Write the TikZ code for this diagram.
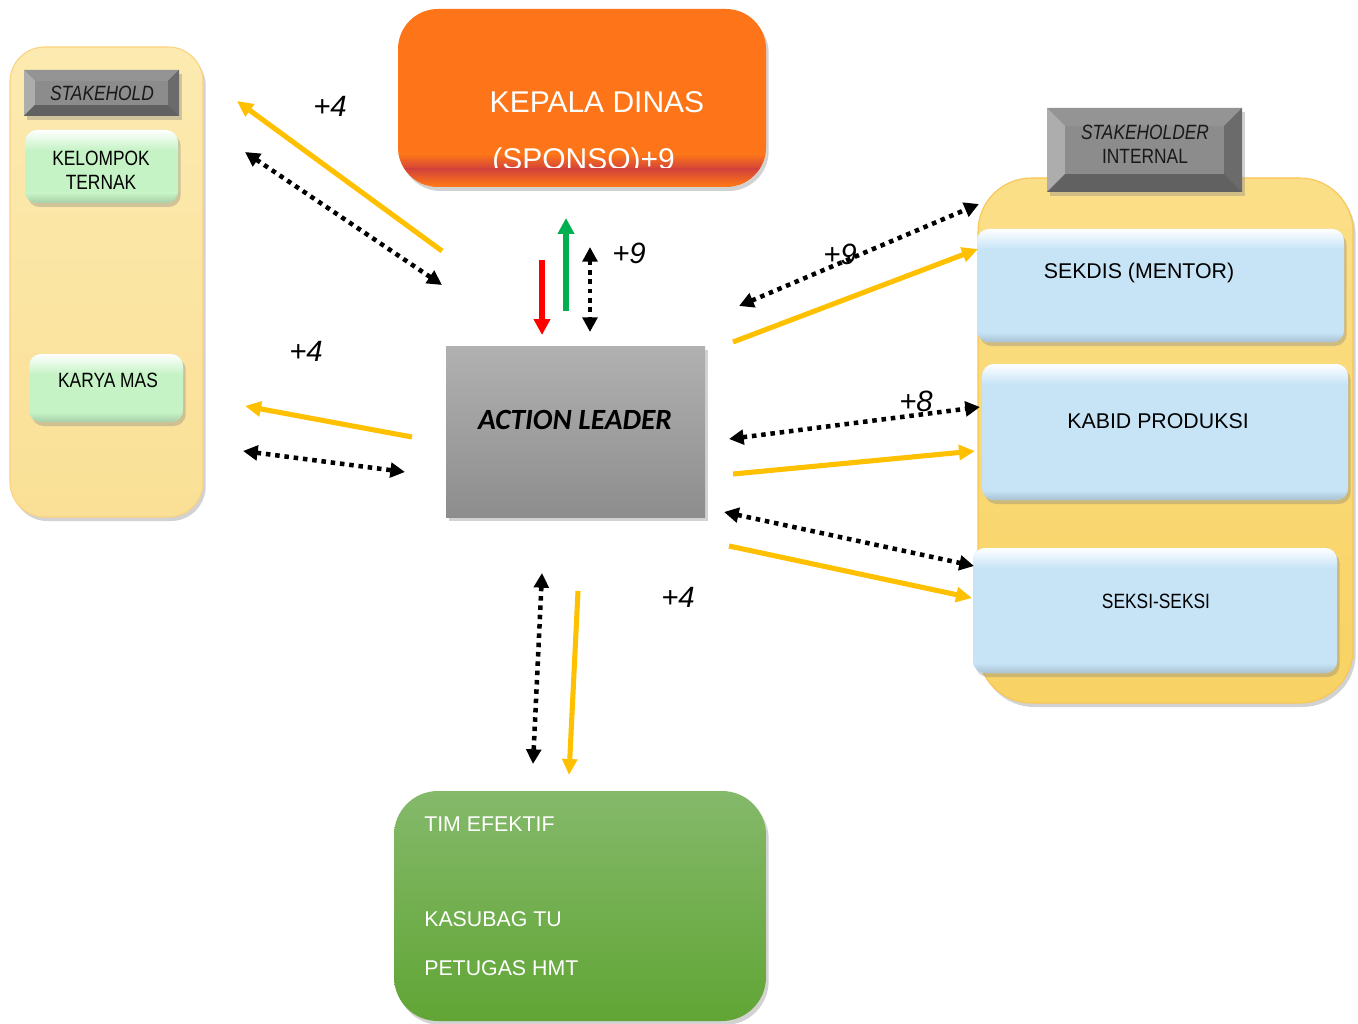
\documentclass[tikz,border=0pt]{standalone}
\usepackage{fontspec}
\setmainfont{Liberation Sans}
\newfontfamily\calfont{Carlito}
\newfontfamily\narrowfont[FakeStretch=0.84]{Liberation Sans}
\usetikzlibrary{shadows,arrows.meta}
\definecolor{lyelA}{HTML}{FCEAB0}
\definecolor{lyelB}{HTML}{FAE096}
\definecolor{ryelA}{HTML}{FBDF88}
\definecolor{ryelB}{HTML}{F8D263}
\definecolor{orng}{HTML}{FD7518}
\definecolor{orred}{HTML}{D3433A}
\definecolor{grnA}{HTML}{84B96A}
\definecolor{grnB}{HTML}{61A535}
\definecolor{gryA}{HTML}{B1B1B1}
\definecolor{gryB}{HTML}{8D8D8D}
\definecolor{ltgrn}{HTML}{C6F3C6}
\definecolor{ltblu}{HTML}{C7E4F7}
\definecolor{ayel}{HTML}{FFC000}
\definecolor{agrn}{HTML}{00B050}
\newcommand\mkbevbox[5]{%
  \path[sh,fill=#5,rounded corners=9pt] (#1,#2) rectangle (#3,#4);
  \begin{scope}
    \clip[rounded corners=9pt] (#1,#2) rectangle (#3,#4);
    \shade[top color=white, bottom color=#5] (#1,#2) rectangle (#3,#2+20);
    \shade[top color=#5, bottom color=#5!85!black] (#1,#4-10) rectangle (#3,#4);
  \end{scope}}
\newcommand\mkgraybox[5]{%
  \path[sh,fill=black!45] (#1,#2) rectangle (#3,#4);
  \fill[black!42] (#1,#2)--(#3,#2)--(#3-#5,#2+#5)--(#1+#5,#2+#5)--cycle;
  \fill[black!32] (#1,#2)--(#1+#5,#2+#5)--(#1+#5,#4-#5)--(#1,#4)--cycle;
  \fill[black!58] (#3,#2)--(#3-#5,#2+#5)--(#3-#5,#4-#5)--(#3,#4)--cycle;
  \fill[black!62] (#1,#4)--(#1+#5,#4-#5)--(#3-#5,#4-#5)--(#3,#4)--cycle;
  \fill[black!45] (#1+#5,#2+#5) rectangle (#3-#5,#4-#5);}
\tikzset{
  sh/.style={drop shadow={shadow xshift=2pt,shadow yshift=-3pt,opacity=.35}},
  yarr/.style={draw=ayel,line width=3.8pt,-{Triangle[length=12pt,width=11pt]}},
  darr/.style={draw=black,line width=3.4pt,dash pattern=on 3.4pt off 3.6pt,
    {Triangle[length=11pt,width=11pt]}-{Triangle[length=11pt,width=11pt]}},
  lbl/.style={font=\fontsize{22pt}{26pt}\itshape\selectfont, inner sep=0pt},
  sm/.style={font=\fontsize{15.5pt}{18pt}\narrowfont\selectfont, inner sep=0pt},
  md/.style={font=\fontsize{16pt}{19pt}\selectfont, inner sep=0pt},
  wt/.style={font=\fontsize{16pt}{19pt}\selectfont, text=white, inner sep=0pt, anchor=west},
}
\begin{document}
\begin{tikzpicture}[x=0.75pt,y=-0.75pt]
\useasboundingbox (0,0) rectangle (1358,1023);
\fill[white] (0,0) rectangle (1358,1023);

% left container
\path[sh,draw=lyelB!85!orange,line width=0.8pt,top color=lyelA,bottom color=lyelB,rounded corners=26pt] (10,47) rectangle (203,517);
\mkgraybox{24}{70}{179}{116}{11}
\node[sm,font=\fontsize{15.5pt}{18pt}\narrowfont\itshape\selectfont,text=black!90] (sh1) at (102,93) {STAKEHOLD};
\mkbevbox{25}{130}{178}{203}{ltgrn}
\node[sm,align=center] (kt) at (101,170) {KELOMPOK\\[0pt]TERNAK};
\mkbevbox{29}{354}{183}{422}{ltgrn}
\node[sm] (km) at (108,380) {KARYA MAS};

% right container
\path[sh,draw=ryelB!85!orange,line width=0.8pt,top color=ryelA,bottom color=ryelB,rounded corners=40pt] (978,178) rectangle (1353,703);
\mkgraybox{1047}{108}{1242}{192}{18}
\node[sm,align=center,text=black!90] (sh2) at (1145,144) {\itshape STAKEHOLDER\\[0pt]INTERNAL};
\mkbevbox{977}{229}{1344}{342}{ltblu}
\node[md] (sek) at (1139,273) {SEKDIS (MENTOR)};
\mkbevbox{982}{364}{1348}{500}{ltblu}
\node[md] (kab) at (1158,421) {KABID PRODUKSI};
\mkbevbox{973}{548}{1337}{673}{ltblu}
\node[sm] (sks) at (1156,601) {SEKSI-SEKSI};

% kepala dinas
\path[sh,fill=orng,rounded corners=30pt] (398,9) rectangle (766,187);
\begin{scope}
  \clip[rounded corners=30pt] (398,9) rectangle (766,187);
  \shade[top color=orng, bottom color=orred] (398,154) rectangle (766,169);
\end{scope}
\node[font=\fontsize{22.5pt}{26pt}\selectfont,text=white,inner sep=0pt] (kd1) at (597,102) {KEPALA DINAS};
\node[font=\fontsize{22.5pt}{26pt}\selectfont,text=white,inner sep=0pt,anchor=west] (kd2) at (492,162) {(SPONSO)+9};
\begin{scope}
  \clip[rounded corners=30pt] (398,9) rectangle (766,187);
  \shade[top color=orred, bottom color=orng] (398,169) rectangle (766,185);
\end{scope}

% action leader
\path[sh,top color=gryA,bottom color=gryB] (446,346) rectangle (705,517);
\node[font=\fontsize{22pt}{26pt}\calfont\bfseries\itshape\selectfont,inner sep=0pt] (al) at (575,420) {ACTION LEADER};

% tim efektif
\path[sh,top color=grnA,bottom color=grnB,rounded corners=33pt] (394,791) rectangle (766,1021);
\node[wt] (te1) at (424,824) {TIM EFEKTIF};
\node[wt] (te2) at (424,919) {KASUBAG TU};
\node[wt] (te3) at (424,968) {PETUGAS HMT};

% connector end points
\coordinate (y1s) at (442,251); \coordinate (y1e) at (237,101);
\coordinate (d1s) at (245,152); \coordinate (d1e) at (442,285);
\coordinate (y2s) at (412,437); \coordinate (y2e) at (245,406);
\coordinate (d2s) at (243,451); \coordinate (d2e) at (405,472);
\coordinate (y3s) at (733,342); \coordinate (y3e) at (978,249);
\coordinate (d3s) at (739,306); \coordinate (d3e) at (979,204);
\coordinate (y4s) at (733,474); \coordinate (y4e) at (975,451);
\coordinate (d4s) at (729,439); \coordinate (d4e) at (980,407);
\coordinate (y5s) at (729,546); \coordinate (y5e) at (972,598);
\coordinate (d5s) at (724,512); \coordinate (d5e) at (974,566);
\coordinate (y6s) at (578,591); \coordinate (y6e) at (569,775);
\coordinate (d6s) at (542,573); \coordinate (d6e) at (533,764);
\coordinate (d7s) at (590,247); \coordinate (d7e) at (590,332);
\coordinate (rs) at (542,260); \coordinate (re) at (542,335);
\coordinate (gs) at (566,311); \coordinate (ge) at (566,218);

\draw[yarr] (y1s) -- (y1e);
\draw[darr] (d1s) -- (d1e);
\draw[yarr] (y2s) -- (y2e);
\draw[darr] (d2s) -- (d2e);
\draw[yarr] (y3s) -- (y3e);
\draw[darr] (d3s) -- (d3e);
\draw[yarr] (y4s) -- (y4e);
\draw[darr] (d4s) -- (d4e);
\draw[yarr] (y5s) -- (y5e);
\draw[darr] (d5s) -- (d5e);
\draw[yarr] (y6s) -- (y6e);
\draw[darr] (d6s) -- (d6e);
\draw[darr] (d7s) -- (d7e);
\draw[draw=red,line width=3.8pt,-{Triangle[length=12pt,width=12pt]}] (rs) -- (re);
\draw[draw=agrn,line width=3.8pt,-{Triangle[length=12pt,width=12pt]}] (gs) -- (ge);

% labels
\node[lbl] (l1) at (330,106) {+4};
\node[lbl] (l2) at (629,253) {+9};
\node[lbl] (l3) at (306,351) {+4};
\node[lbl] (l4) at (840,254) {+9};
\node[lbl] (l5) at (916,401) {+8};
\node[lbl] (l6) at (678,597) {+4};
\end{tikzpicture}
\end{document}
